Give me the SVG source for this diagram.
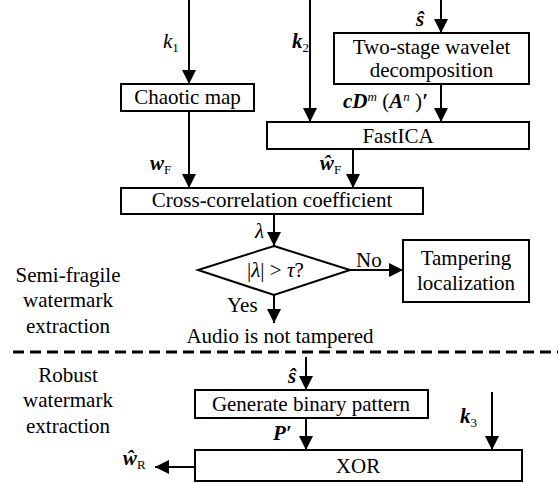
<svg xmlns="http://www.w3.org/2000/svg" width="558" height="483" viewBox="0 0 558 483">
<defs>
<marker id="ah" markerUnits="userSpaceOnUse" markerWidth="14" markerHeight="18" viewBox="0 0 14 18" refX="14" refY="7" orient="auto">
<path d="M0,0 L14,7 L0,14 Z" fill="#000"/>
</marker>
</defs>
<style>
text{font-family:"Liberation Serif","Times New Roman",serif;font-size:21px;fill:#000}
.c{text-anchor:middle}
.i{font-style:italic}
.b{font-weight:bold;font-style:italic}
.s{font-size:13px;font-style:normal;font-weight:normal}
.sup{font-size:13px;font-style:italic;font-weight:normal}
.r{font-style:normal;font-weight:normal}
.box{fill:#fff;stroke:#000;stroke-width:2}
line.a{stroke:#000;stroke-width:2;marker-end:url(#ah)}
</style>
<rect width="558" height="483" fill="#fff"/>
<g id="connectors">
<line class="a" x1="189" y1="0" x2="189" y2="84"/>
<line class="a" x1="310" y1="0" x2="310" y2="122"/>
<line class="a" x1="441" y1="0" x2="441" y2="33"/>
<line class="a" x1="441" y1="84" x2="441" y2="122"/>
<line class="a" x1="189" y1="111" x2="189" y2="188"/>
<line class="a" x1="353" y1="149" x2="353" y2="188"/>
<line class="a" x1="274" y1="214" x2="274" y2="246"/>
<line class="a" x1="350" y1="270" x2="403" y2="270"/>
<line class="a" x1="274" y1="295" x2="274" y2="323"/>
<line class="a" x1="306" y1="357" x2="306" y2="390"/>
<line class="a" x1="306" y1="418" x2="306" y2="450"/>
<line class="a" x1="492" y1="392" x2="492" y2="450"/>
<line class="a" x1="195" y1="467" x2="155" y2="467"/>
<line x1="13" y1="352" x2="558" y2="352" stroke="#000" stroke-width="3" stroke-dasharray="11,6"/>
</g>
<g id="chaotic"><rect class="box" x="121" y="84" width="133" height="27"/><text class="c" x="187.5" y="104">Chaotic map</text></g>
<g id="wavelet"><rect class="box" x="334" y="33" width="195" height="51"/><text class="c" x="431.5" y="54">Two-stage wavelet</text><text class="c" x="431.5" y="77">decomposition</text></g>
<g id="fastica"><rect class="box" x="267" y="122" width="262" height="27"/><text class="c" x="398" y="143">FastICA</text></g>
<g id="crosscorr"><rect class="box" x="121" y="188" width="302" height="26"/><text class="c" x="272" y="207">Cross-correlation coefficient</text></g>
<g id="decision"><polygon class="box" points="274,246 350,270 274,295 198,270"/><text x="247" y="277"><tspan>|</tspan><tspan class="i">λ</tspan><tspan>| &gt; </tspan><tspan class="i">τ</tspan><tspan>?</tspan></text></g>
<g id="tampering"><rect class="box" x="403" y="240" width="126" height="62"/><text class="c" x="466" y="265">Tampering</text><text class="c" x="466" y="290">localization</text></g>
<g id="notTampered"><text class="c" x="280" y="343">Audio is not tampered</text></g>
<g id="generate"><rect class="box" x="195" y="390" width="233" height="28"/><text class="c" x="311" y="411">Generate binary pattern</text></g>
<g id="xor"><rect class="box" x="195" y="450" width="327" height="31"/><text class="c" x="358" y="473">XOR</text></g>
<g id="labels">
<text class="i" x="163" y="48">k<tspan class="s" dy="4">1</tspan></text>
<text class="b" x="292" y="48">k<tspan class="s" dy="4">2</tspan></text>
<text class="b" x="416" y="26">ŝ</text>
<text class="b" x="343" y="108">cD<tspan class="sup" dy="-7">m</tspan><tspan class="r" dy="7"> (</tspan><tspan>A</tspan><tspan class="sup" dy="-7">n</tspan><tspan class="r" dy="7"> )</tspan><tspan>′</tspan></text>
<text class="b" x="150" y="170">w<tspan class="s" dy="4">F</tspan></text>
<text class="b" x="320" y="170">ŵ<tspan class="s" dy="4">F</tspan></text>
<text class="i" x="255" y="238">λ</text>
<text x="227" y="312">Yes</text>
<text x="356" y="267">No</text>
<text class="b" x="288" y="383">ŝ</text>
<text class="b" x="273" y="440">P′</text>
<text class="b" x="460" y="423">k<tspan class="s" dy="4">3</tspan></text>
<text class="b" x="123" y="465">ŵ<tspan class="s" dy="4">R</tspan></text>
<text class="c" x="68" y="282">Semi-fragile</text>
<text class="c" x="68" y="307">watermark</text>
<text class="c" x="68" y="333">extraction</text>
<text class="c" x="68" y="382">Robust</text>
<text class="c" x="68" y="407">watermark</text>
<text class="c" x="68" y="433">extraction</text>
</g>
</svg>
